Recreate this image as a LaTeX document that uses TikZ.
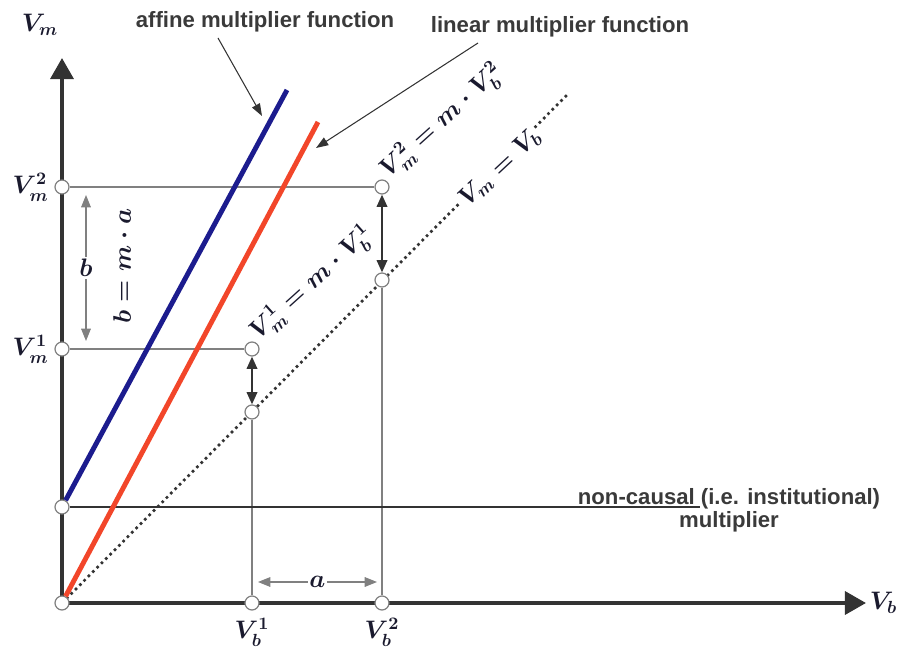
\documentclass[tikz,border=0pt]{standalone}
\usepackage{amsmath}
\usepackage{fontspec}
\setsansfont{Liberation Sans}
\usepackage{xcolor}
\usetikzlibrary{arrows.meta,positioning,backgrounds}

\definecolor{axisgray}{HTML}{333333}
\definecolor{thingray}{HTML}{808080}
\definecolor{txtgray}{HTML}{3A3A3A}
\definecolor{affblue}{HTML}{1C1C8E}
\definecolor{linred}{HTML}{F2462A}
\definecolor{mathink}{HTML}{1A1A2E}

\begin{document}
\begin{tikzpicture}[
  x=0.02cm, y=-0.02cm,
  >=Latex,
  axis/.style={line width=2.3pt, draw=axisgray, -{Triangle[length=12pt, width=13pt]}},
  guide/.style={line width=0.6pt, draw=thingray},
  gap/.style={line width=1.1pt, draw=axisgray, {Triangle[length=7pt, width=6pt]}-{Triangle[length=7pt, width=6pt]}},
  span/.style={line width=0.6pt, draw=thingray, {Triangle[length=7pt, width=5.5pt]}-{Triangle[length=7pt, width=5.5pt]}},
  note/.style={line width=0.6pt, draw=axisgray, -{Triangle[length=7pt, width=5pt]}},
  dot/.style={circle, draw=thingray, fill=white, line width=0.7pt, inner sep=0pt, minimum size=0.28cm},
  txt/.style={font=\fontsize{12.6}{15}\selectfont\sffamily\bfseries, text=txtgray},
  mth/.style={font=\fontsize{14}{16}\selectfont\boldmath, text=mathink, inner sep=1pt}
]
\useasboundingbox (0,0) rectangle (899,648);

% ── Axes ──
\coordinate (o) at (62,603);
\coordinate (ytip) at (62,58);
\coordinate (xtip) at (866,603);
\draw[axis] (o) -- (ytip);
\draw[axis] (o) -- (xtip);
\node[mth] (vm) at (40,25) {$V_m$};
\node[mth, right=1pt of xtip] (vb) {$V_b$};

% ── Points ──
\node[dot] (O) at (o) {};
\node[dot] (Yc) at (62,507) {};
\node[dot] (Ym1) at (62,349) {};
\node[dot] (Ym2) at (62,187) {};
\node[dot] (Xb1) at (252,603) {};
\node[dot] (Xb2) at (382,603) {};
\node[dot] (P1) at (252,349) {};
\node[dot] (P2) at (382,187) {};
\node[dot] (Q1) at (252,412) {};
\node[dot] (Q2) at (382,280) {};

% ── Guide lines ──
\draw[guide] (Ym2) -- (P2);
\draw[guide] (Ym1) -- (P1);
\draw[guide] (Q1) -- (Xb1);
\draw[guide] (Q2) -- (Xb2);
\draw[gap] (P1) -- (Q1);
\draw[gap] (P2) -- (Q2);

% ── Non-causal multiplier ──
\coordinate (ncEnd) at (700,507);
\draw[line width=1.5pt, draw=axisgray] (Yc) -- (ncEnd);
\node[txt, align=center] (nc) at (729,510)
  {non-causal (i.e. institutional)\\[-2pt]multiplier};

% ── Multiplier functions ──
\coordinate (affTop) at (287,90);
\coordinate (linTop) at (318,122);
\coordinate (diagTop) at (567,95);
\begin{scope}[on background layer]
  \draw[line width=1.5pt, draw=axisgray, dotted] (o) -- (diagTop);
\end{scope}
\node[mth, rotate=43, fill=white] (diag) at (500,168) {$V_m = V_b$};
\draw[line width=2.8pt, draw=affblue] (Yc) -- (affTop);
\draw[line width=2.8pt, draw=linred] (O) -- (linTop);

% ── Annotations ──
\node[txt] (affine) at (265,22) {affine multiplier function};
\node[txt] (linear) at (560,27) {linear multiplier function};
\coordinate (affFrom) at (218,38);
\coordinate (affTo) at (262,116);
\coordinate (linFrom) at (478,43);
\coordinate (linTo) at (316,148);
\draw[note] (affFrom) -- (affTo);
\draw[note] (linFrom) -- (linTo);

% ── Labels ──
\node[mth, left=2pt of Ym2] (lm2) {$V_m^2$};
\node[mth, left=2pt of Ym1] (lm1) {$V_m^1$};
\node[mth, below=3pt of Xb1] (lb1) {$V_b^1$};
\node[mth, below=3pt of Xb2] (lb2) {$V_b^2$};
\node[mth, rotate=42, anchor=south west] (eq2) at ([xshift=2pt]P2.east) {$V_m^2 = m\cdot V_b^2$};
\node[mth, rotate=42, anchor=south west] (eq1) at ([xshift=2pt]P1.east) {$V_m^1 = m\cdot V_b^1$};

% ── Differences a and b ──
\coordinate (bTop) at (86,195);
\coordinate (bBot) at (86,341);
\draw[span] (bTop) -- node[mth, fill=white] (b) {$b$} (bBot);
\node[mth, rotate=90] (bma) at (122,266) {$b = m\cdot a$};
\coordinate (aLeft) at (258,582);
\coordinate (aRight) at (377,582);
\draw[span] (aLeft) -- node[mth, fill=white] (a) {$a$} (aRight);

\end{tikzpicture}
\end{document}
